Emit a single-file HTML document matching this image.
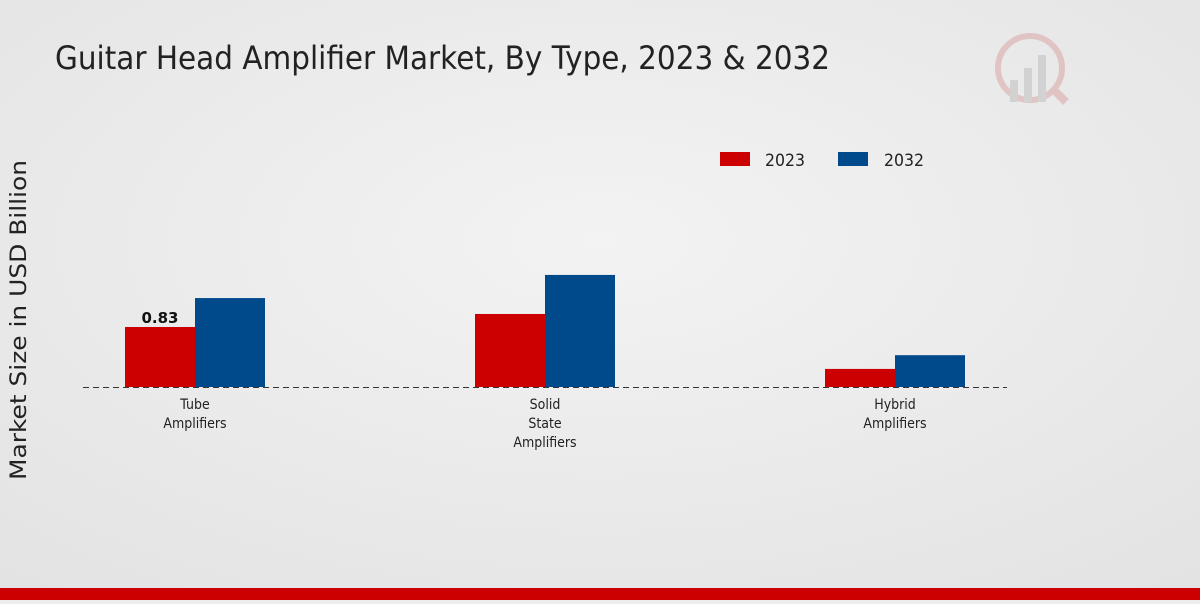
<!DOCTYPE html>
<html><head><meta charset="utf-8"><style>
body{margin:0;width:1200px;height:600px;overflow:hidden;background:#ececec;font-family:"DejaVu Sans","Liberation Sans",sans-serif}
</style></head><body>
<svg width="1200" height="600" xmlns="http://www.w3.org/2000/svg">
<defs><radialGradient id="bg" cx="0.5" cy="0.4" r="0.8"><stop offset="0" stop-color="#f3f3f3"/><stop offset="1" stop-color="#e2e2e2"/></radialGradient></defs>
<rect width="1200" height="600" fill="url(#bg)"/>
<text x="55" y="69" font-size="32" fill="#222" textLength="775" lengthAdjust="spacingAndGlyphs">Guitar Head Amplifier Market, By Type, 2023 &amp; 2032</text>
<g opacity="0.5">
<circle cx="1030" cy="68" r="32" fill="none" stroke="#d9a0a0" stroke-width="6"/>
<rect x="1010" y="80" width="8" height="22" fill="#bbb"/><rect x="1024" y="68" width="8" height="34" fill="#bbb"/><rect x="1038" y="55" width="8" height="47" fill="#bbb"/>
<line x1="1052" y1="88" x2="1066" y2="102" stroke="#d9a0a0" stroke-width="8"/>
</g>
<text transform="translate(26,320) rotate(-90)" text-anchor="middle" font-size="22" fill="#222" textLength="320" lengthAdjust="spacingAndGlyphs">Market Size in USD Billion</text>
<g>
<rect x="720" y="152" width="30" height="14" fill="#cc0000"/>
<text x="765" y="166" font-size="17" fill="#222" textLength="40" lengthAdjust="spacingAndGlyphs">2023</text>
<rect x="838" y="152" width="30" height="14" fill="#004a8c"/>
<text x="884" y="166" font-size="17" fill="#222" textLength="40" lengthAdjust="spacingAndGlyphs">2032</text>
</g>
<g id="plot"></g>
<line x1="83" y1="387.5" x2="1007" y2="387.5" stroke="#333" stroke-dasharray="6,4"/>
<rect x="0" y="588" width="1200" height="12" fill="#cc0000"/>
</svg>
<script>
const categories=[["Tube","Amplifiers"],["Solid","State","Amplifiers"],["Hybrid","Amplifiers"]];
const values2023=[0.83,1.01,0.25];
const values2032=[1.23,1.55,0.44];
const labels2023=["0.83","",""];
const NS="http://www.w3.org/2000/svg";
const plot=document.getElementById('plot');
const base=387, scale=72.3;
const y=v=>base-v*scale;
const cx=i=>195+i*350;
function mk(t,a){const e=document.createElementNS(NS,t);for(const k in a)e.setAttribute(k,a[k]);plot.appendChild(e);return e;}
categories.forEach((c,i)=>{
  const b1=mk('rect',{x:cx(i)-70,y:y(values2023[i]),width:70,height:base-y(values2023[i]),fill:'#cc0000'});
  
  
  const b2=mk('rect',{x:cx(i),y:y(values2032[i]),width:70,height:base-y(values2032[i]),fill:'#004a8c'});
  
  
  if(labels2023[i]){const t=mk('text',{x:cx(i)-35,y:y(values2023[i])-4,'text-anchor':'middle','font-size':15,'font-weight':'bold',fill:'#111'});t.textContent=labels2023[i];
    
    }
  c.forEach((l,j)=>{const t=mk('text',{transform:'translate('+cx(i)+','+(409+j*19)+') scale(0.9,1)','text-anchor':'middle','font-size':14,fill:'#222'});t.textContent=l;
    
    });
});
</script>
</body></html>
